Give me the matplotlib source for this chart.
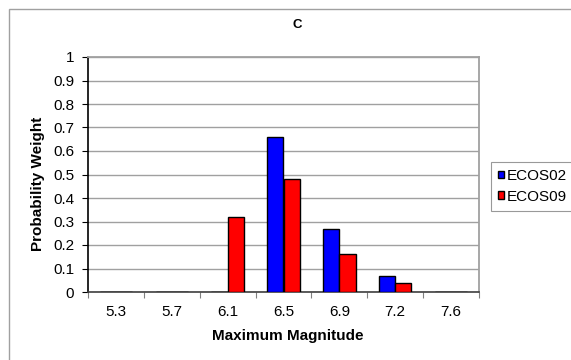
import numpy as np
import matplotlib.pyplot as plt
from matplotlib.patches import Rectangle

plt.rcParams['font.family'] = ['Liberation Sans', 'DejaVu Sans']

# data
magnitudes = ['5.3', '5.7', '6.1', '6.5', '6.9', '7.2', '7.6']
ecos02 = [0, 0, 0, 0.66, 0.27, 0.07, 0]
ecos09 = [0, 0, 0.32, 0.48, 0.16, 0.04, 0]

W, H = 571, 360
fig = plt.figure(figsize=(W / 100, H / 100), dpi=100)
ax = fig.add_axes([88 / W, 1 - 292 / H, (479 - 88) / W, (292 - 57) / H])

# outer chart border (right and bottom edges fall outside the image)
fig.patches.append(Rectangle((9 / W, -0.1), 1.2, 1 - 9 / H + 0.1,
                             transform=fig.transFigure, fill=False,
                             edgecolor='#a0a0a0', linewidth=1))

x = np.arange(len(magnitudes))
w = 0.29
ax.bar(x - w / 2, ecos02, w, color='#0000ff', edgecolor='black', linewidth=1,
       label='ECOS02', zorder=3)
ax.bar(x + w / 2, ecos09, w, color='#ff0000', edgecolor='black', linewidth=1,
       label='ECOS09', zorder=3)

ax.set_xlim(-0.5, len(magnitudes) - 0.5)
ax.set_ylim(0, 1)
ax.set_yticks(np.arange(0, 1.01, 0.1))
ax.set_yticklabels(['0', '0.1', '0.2', '0.3', '0.4', '0.5', '0.6', '0.7', '0.8', '0.9', '1'])
ax.yaxis.grid(True, color='#a0a0a0', linewidth=1, zorder=0)

ax.set_xticks(np.arange(-0.5, len(magnitudes), 1))
ax.set_xticklabels([])
ax.set_xticks(x, minor=True)
ax.set_xticklabels(magnitudes, minor=True)
ax.tick_params(axis='x', which='minor', length=0, pad=9.5, labelsize=11)
ax.tick_params(axis='x', which='major', length=4, color='#808080')
ax.tick_params(axis='y', length=4, labelsize=11, pad=6)

for s in ['top', 'right']:
    ax.spines[s].set_color('#a0a0a0')
    ax.spines[s].set_linewidth(1.3)
ax.spines['left'].set_color('black')
ax.spines['bottom'].set_color('#404040')
ax.spines['left'].set_linewidth(1.2)
ax.spines['bottom'].set_linewidth(1.2)

fig.text(288 / W, 1 - 336 / H, 'Maximum Magnitude', fontsize=11,
         fontweight='bold', ha='center', va='center')
fig.text(38 / W, 1 - 184 / H, 'Probability Weight', fontsize=11,
         fontweight='bold', ha='center', va='center', rotation=90)
fig.text(297 / W, 1 - 25 / H, 'C', fontsize=9.5, fontweight='bold',
         ha='center', va='center')

leg = ax.legend(loc='upper left', bbox_to_anchor=(491 / W, 1 - 162 / H),
                bbox_transform=fig.transFigure, frameon=True, fancybox=False,
                fontsize=11, handlelength=0.4, handleheight=0.4,
                handletextpad=0.2, borderpad=0.45, labelspacing=0.45,
                borderaxespad=0)
leg.get_frame().set_edgecolor('#808080')
leg.get_frame().set_linewidth(0.8)

fig.savefig('out.png', dpi=100)
